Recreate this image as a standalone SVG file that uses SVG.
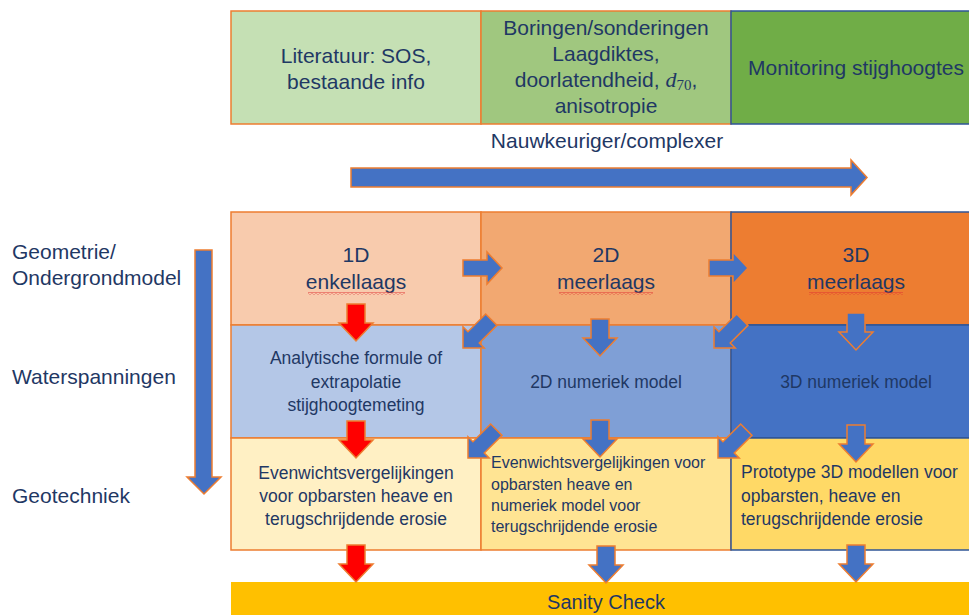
<svg xmlns="http://www.w3.org/2000/svg" width="969" height="615" viewBox="0 0 969 615">
<style>
text{font-family:"Liberation Sans",Arial,sans-serif;fill:#1F3864}
.big{font-size:21px}
.mid{font-size:17.5px}
.sm{font-size:16px}
.c{text-anchor:middle}
.cellO{stroke:#ED7D31;stroke-width:1.5}
.cellB{stroke:#2F5597;stroke-width:1.5}
.ab{fill:#4472C4;stroke:#ED7D31;stroke-width:1.5;stroke-linejoin:miter}
.ar{fill:#FF0000;stroke:#ED7D31;stroke-width:1.5}
</style>
<defs>
<path id="dn" d="M-9,-37 H9 V-18 H17 L0,0 L-17,-18 H-9 Z"/>
<path id="rt" d="M-39,-8 H-15 V-16 L0,0 L-15,16 V8 H-39 Z"/>
<path id="dg" d="M-40,-8 H-15 V-15 L0,0 L-15,15 V8 H-40 Z"/>
<pattern id="squig" width="4" height="3" patternUnits="userSpaceOnUse"><path d="M0,2.3 L2,0.7 L4,2.3" fill="none" stroke="#E03030" stroke-width="0.8"/></pattern>
</defs>

<g id="top-literatuur">
<rect x="231" y="11" width="250" height="113" fill="#C5E0B4" class="cellO"/>
<text class="big c" x="356" y="63">Literatuur: SOS,</text>
<text class="big c" x="356" y="89">bestaande info</text>
</g>
<g id="top-boringen">
<rect x="481" y="11" width="250" height="113" fill="#A0C77F" class="cellO"/>
<text class="big c" x="606" y="35">Boringen/sonderingen</text>
<text class="big c" x="606" y="61">Laagdiktes,</text>
<text class="big c" x="606" y="87">doorlatendheid, <tspan font-family="'Liberation Serif',serif" font-style="italic" font-size="22">d</tspan><tspan font-family="'Liberation Serif',serif" font-size="15" dy="3">70</tspan><tspan dy="-3">,</tspan></text>
<text class="big c" x="606" y="113">anisotropie</text>
</g>
<g id="top-monitoring">
<rect x="731" y="11" width="240" height="113" fill="#70AD47" class="cellB"/>
<text class="big c" x="856" y="75">Monitoring stijghoogtes</text>
</g>
<g id="label-nauwkeuriger">
<text class="big c" x="607" y="148">Nauwkeuriger/complexer</text>
</g>

<g id="left-labels">
<text class="big" x="12" y="259">Geometrie/</text>
<text class="big" x="12" y="285">Ondergrondmodel</text>
<text class="big" x="12" y="384">Waterspanningen</text>
<text class="big" x="12" y="503">Geotechniek</text>
</g>

<g id="r1c1">
<rect x="231" y="212" width="250" height="113" fill="#F8CBAD" class="cellO"/>
<text class="big c" x="356" y="262">1D</text>
<text class="big c" x="356" y="289">enkellaags</text>
<rect x="308" y="292" width="97" height="3" fill="url(#squig)"/>
</g>
<g id="r1c2">
<rect x="481" y="212" width="250" height="113" fill="#F2A871" class="cellO"/>
<text class="big c" x="606" y="262">2D</text>
<text class="big c" x="606" y="289">meerlaags</text>
<rect x="559" y="292" width="94" height="3" fill="url(#squig)"/>
</g>
<g id="r1c3">
<rect x="731" y="212" width="240" height="113" fill="#ED7D31" class="cellB"/>
<text class="big c" x="856" y="262">3D</text>
<text class="big c" x="856" y="289">meerlaags</text>
<rect x="809" y="292" width="94" height="3" fill="url(#squig)"/>
</g>

<g id="r2c1">
<rect x="231" y="325" width="250" height="113" fill="#B4C7E7" class="cellO"/>
<text class="mid c" x="356" y="364">Analytische formule of</text>
<text class="mid c" x="356" y="388">extrapolatie</text>
<text class="mid c" x="356" y="411">stijghoogtemeting</text>
</g>
<g id="r2c2">
<rect x="481" y="325" width="250" height="113" fill="#7F9FD6" class="cellO"/>
<text class="mid c" x="606" y="388">2D numeriek model</text>
</g>
<g id="r2c3">
<rect x="731" y="325" width="240" height="113" fill="#4472C4" class="cellB"/>
<text class="mid c" x="856" y="388">3D numeriek model</text>
</g>

<g id="r3c1">
<rect x="231" y="438" width="250" height="112" fill="#FFF0C4" class="cellO"/>
<text class="mid c" x="356" y="479">Evenwichtsvergelijkingen</text>
<text class="mid c" x="356" y="502">voor opbarsten heave en</text>
<text class="mid c" x="356" y="525">terugschrijdende erosie</text>
</g>
<g id="r3c2">
<rect x="481" y="438" width="250" height="112" fill="#FFE493" class="cellO"/>
<text class="sm" x="491" y="468">Evenwichtsvergelijkingen voor</text>
<text class="sm" x="491" y="490">opbarsten heave en</text>
<text class="sm" x="491" y="511">numeriek model voor</text>
<text class="sm" x="491" y="532">terugschrijdende erosie</text>
</g>
<g id="r3c3">
<rect x="731" y="438" width="240" height="112" fill="#FFD966" class="cellB"/>
<text class="mid" x="741" y="478">Prototype 3D modellen voor</text>
<text class="mid" x="741" y="502">opbarsten, heave en</text>
<text class="mid" x="741" y="525">terugschrijdende erosie</text>
</g>

<g id="sanity-check">
<rect x="231" y="582" width="740" height="34" fill="#FFC000"/>
<text class="c" x="606" y="609" font-size="20">Sanity Check</text>
</g>

<g id="connectors">
<path class="ab" d="M351,168 H851 V160 L867,177.5 L851,195 V187 H351 Z"/>
<path class="ab" d="M195,250 H212 V477 H221 L204,494 L187,477 H195 Z"/>
<use href="#rt" class="ab" transform="translate(502,268)"/>
<use href="#rt" class="ab" transform="translate(748,268)"/>
<use href="#dn" class="ar" transform="translate(356,341)"/>
<use href="#dn" class="ab" transform="translate(600,356)"/>
<use href="#dn" class="ab" transform="translate(856,350)"/>
<use href="#dg" class="ab" transform="translate(463,348) rotate(135)"/>
<use href="#dg" class="ab" transform="translate(714,348) rotate(135)"/>
<use href="#dn" class="ar" transform="translate(356,458)"/>
<use href="#dn" class="ab" transform="translate(600,457)"/>
<use href="#dn" class="ab" transform="translate(856,462)"/>
<use href="#dg" class="ab" transform="translate(468,458) rotate(135)"/>
<use href="#dg" class="ab" transform="translate(718,458) rotate(135)"/>
<use href="#dn" class="ar" transform="translate(356,582)"/>
<use href="#dn" class="ab" transform="translate(606,583)"/>
<use href="#dn" class="ab" transform="translate(856,582)"/>
</g>
</svg>
